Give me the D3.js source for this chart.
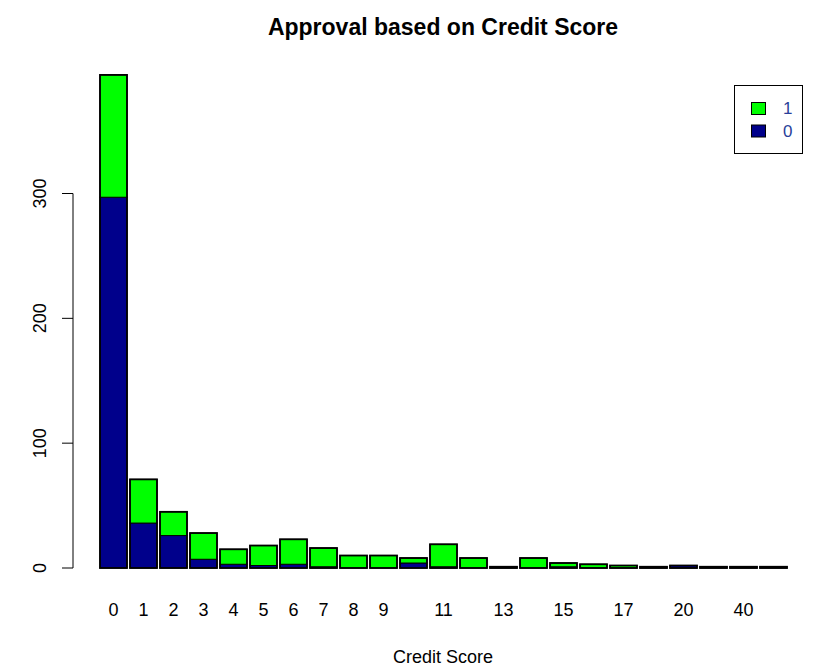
<!DOCTYPE html>
<html>
<head>
<meta charset="utf-8">
<script src="https://cdn.jsdelivr.net/npm/d3@7"></script>
<style>
  body { margin: 0; background: #fff; }
  text { font-family: "Liberation Sans", Arial, sans-serif; }
</style>
</head>
<body>
<svg id="chart" width="840" height="672"></svg>
<script>
// credit score categories (x axis)
var scores = ["0","1","2","3","4","5","6","7","8","9","10","11","12","13","14","15","16","17","19","20","23","40","67"];
// labels R managed to print under the bars
var shownLabels = ["0","1","2","3","4","5","6","7","8","9","11","13","15","17","20","40"];
// counts per score, not approved (0) and approved (1)
var notApproved = [297, 36, 26, 7, 3, 2, 3, 1, 0, 0, 4, 1, 0, 1, 0, 1, 0, 0, 1, 2, 1, 0, 0];
var approved    = [ 98, 35, 19, 21, 12, 16, 20, 15, 10, 10, 4, 18, 8, 0, 8, 3, 3, 2, 0, 0, 0, 1, 1];
var yTicks = [0, 100, 200, 300];
var legendKeys = ["1", "0"];

var svg = d3.select("#chart");
var colors = {"0": "#00008b", "1": "#00ff00"};

var x = d3.scaleBand()
    .domain(scores)
    .range([98.5, 788.5])
    .paddingInner(0.1)
    .paddingOuter(0.05);

var y = d3.scaleLinear()
    .domain([0, 300])
    .range([568, 193.5]);

var rows = scores.map(function(s, i){
    return {score: s, n0: notApproved[i], n1: approved[i]};
});

// bars: blue segment at the bottom, green stacked on top
var bars = svg.append("g").selectAll("g").data(rows).enter().append("g");

bars.append("rect")
    .attr("x", function(d){ return x(d.score); })
    .attr("width", x.bandwidth())
    .attr("y", function(d){ return y(d.n0); })
    .attr("height", function(d){ return y(0) - y(d.n0); })
    .style("fill", colors["0"])
    .style("stroke", "black")
    .style("stroke-width", 1);

bars.append("rect")
    .attr("x", function(d){ return x(d.score); })
    .attr("width", x.bandwidth())
    .attr("y", function(d){ return y(d.n0 + d.n1); })
    .attr("height", function(d){ return y(d.n0) - y(d.n0 + d.n1); })
    .style("fill", colors["1"])
    .style("stroke", "black")
    .style("stroke-width", 1);

bars.append("rect")
    .attr("x", function(d){ return x(d.score); })
    .attr("width", x.bandwidth())
    .attr("y", function(d){ return y(d.n0 + d.n1); })
    .attr("height", function(d){ return y(0) - y(d.n0 + d.n1); })
    .style("fill", "none")
    .style("stroke", "black")
    .style("stroke-width", 1.8);

// y axis, R style
var yAxis = svg.append("g");
yAxis.append("line")
    .attr("x1", 73).attr("x2", 73)
    .attr("y1", y(0)).attr("y2", y(300))
    .style("stroke", "black");
yAxis.selectAll(".tick").data(yTicks).enter().append("line")
    .attr("x1", 62).attr("x2", 73)
    .attr("y1", function(d){ return y(d); })
    .attr("y2", function(d){ return y(d); })
    .style("stroke", "black");
yAxis.selectAll("text").data(yTicks).enter().append("text")
    .attr("transform", function(d){ return "translate(46," + y(d) + ") rotate(-90)"; })
    .attr("text-anchor", "middle")
    .style("font-size", "18px")
    .text(function(d){ return d; });

// x tick labels (no axis line, like barplot)
svg.append("g").selectAll("text").data(shownLabels).enter().append("text")
    .attr("x", function(d){ return x(d) + x.bandwidth() / 2; })
    .attr("y", 616)
    .attr("text-anchor", "middle")
    .style("font-size", "18px")
    .text(function(d){ return d; });

svg.append("text")
    .attr("x", 443).attr("y", 663)
    .attr("text-anchor", "middle")
    .style("font-size", "18px")
    .text("Credit Score");

svg.append("text")
    .attr("x", 443).attr("y", 35)
    .attr("text-anchor", "middle")
    .style("font-size", "23px")
    .style("font-weight", "bold")
    .text("Approval based on Credit Score");

// legend
var legend = svg.append("g");
legend.append("rect")
    .attr("x", 734.5).attr("y", 85.5)
    .attr("width", 68).attr("height", 68)
    .style("fill", "white")
    .style("stroke", "black");
var items = legend.selectAll("g").data(legendKeys).enter().append("g")
    .attr("transform", function(d, i){ return "translate(0," + (i * 22.5) + ")"; });
items.append("rect")
    .attr("x", 751.5).attr("y", 102.5)
    .attr("width", 14).attr("height", 12)
    .style("fill", function(d){ return colors[d]; })
    .style("stroke", "black");
items.append("text")
    .attr("x", 783).attr("y", 114)
    .style("font-size", "17px")
    .style("fill", "#2a3f9a")
    .text(function(d){ return d; });
</script>
</body>
</html>
